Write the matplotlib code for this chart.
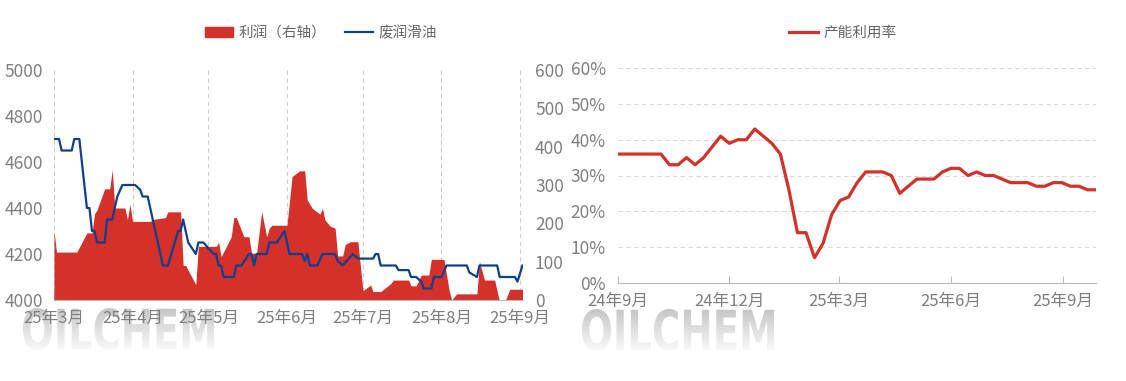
import numpy as np
import pandas as pd
import matplotlib
matplotlib.use('Agg')
import matplotlib.pyplot as plt
import matplotlib.dates as mdates
from matplotlib.ticker import FuncFormatter, MultipleLocator
from matplotlib.textpath import TextPath
from matplotlib.patches import PathPatch, Patch
from matplotlib.font_manager import FontProperties
from matplotlib.transforms import Affine2D
from matplotlib.lines import Line2D

plt.rcParams['font.family'] = ['Noto Sans CJK SC', 'DejaVu Sans']

# ---- data ----
oil_dates = ['2025-03-01', '2025-03-03', '2025-03-04', '2025-03-08', '2025-03-09', '2025-03-11',
             '2025-03-14', '2025-03-15', '2025-03-16', '2025-03-17', '2025-03-18', '2025-03-21',
             '2025-03-22', '2025-03-24', '2025-03-25', '2025-03-26', '2025-03-28', '2025-04-02',
             '2025-04-04', '2025-04-05', '2025-04-07', '2025-04-13', '2025-04-15', '2025-04-19',
             '2025-04-20', '2025-04-21', '2025-04-23', '2025-04-26', '2025-04-27', '2025-04-29',
             '2025-05-03', '2025-05-04', '2025-05-05', '2025-05-06', '2025-05-07', '2025-05-11',
             '2025-05-12', '2025-05-14', '2025-05-17', '2025-05-18', '2025-05-19', '2025-05-20',
             '2025-05-24', '2025-05-25', '2025-05-28', '2025-05-31', '2025-06-02', '2025-06-07',
             '2025-06-08', '2025-06-09', '2025-06-10', '2025-06-13', '2025-06-15', '2025-06-20',
             '2025-06-21', '2025-06-23', '2025-06-27', '2025-06-29', '2025-07-05', '2025-07-06',
             '2025-07-07', '2025-07-08', '2025-07-14', '2025-07-15', '2025-07-19', '2025-07-20',
             '2025-07-22', '2025-07-24', '2025-07-25', '2025-07-28', '2025-07-29', '2025-08-01',
             '2025-08-03', '2025-08-11', '2025-08-12', '2025-08-15', '2025-08-16', '2025-08-23',
             '2025-08-24', '2025-08-30', '2025-08-31', '2025-09-02']
oil_price = [4700, 4700, 4650, 4650, 4700, 4700,
             4400, 4400, 4300, 4300, 4250, 4250,
             4350, 4350, 4400, 4450, 4500, 4500,
             4480, 4450, 4450, 4150, 4150, 4300,
             4300, 4350, 4250, 4200, 4250, 4250,
             4200, 4200, 4150, 4150, 4100, 4100,
             4150, 4150, 4200, 4200, 4150, 4200,
             4200, 4250, 4250, 4300, 4200, 4200,
             4170, 4200, 4150, 4150, 4200, 4200,
             4170, 4150, 4200, 4180, 4180, 4200,
             4200, 4150, 4150, 4130, 4130, 4100,
             4100, 4080, 4050, 4050, 4100, 4100,
             4150, 4150, 4120, 4100, 4150, 4150,
             4100, 4100, 4080, 4150]

profit_dates = ['2025-03-01', '2025-03-02', '2025-03-10', '2025-03-14', '2025-03-16', '2025-03-17',
                '2025-03-18', '2025-03-21', '2025-03-23', '2025-03-24', '2025-03-25', '2025-03-29',
                '2025-03-30', '2025-03-31', '2025-04-01', '2025-04-08', '2025-04-09', '2025-04-14',
                '2025-04-15', '2025-04-20', '2025-04-21', '2025-04-22', '2025-04-26', '2025-04-27',
                '2025-05-04', '2025-05-05', '2025-05-06', '2025-05-10', '2025-05-11', '2025-05-12',
                '2025-05-15', '2025-05-17', '2025-05-18', '2025-05-20', '2025-05-22', '2025-05-24',
                '2025-05-25', '2025-05-26', '2025-06-01', '2025-06-03', '2025-06-06', '2025-06-08',
                '2025-06-09', '2025-06-11', '2025-06-14', '2025-06-15', '2025-06-16', '2025-06-18',
                '2025-06-20', '2025-06-21', '2025-06-23', '2025-06-24', '2025-06-26', '2025-06-29',
                '2025-07-01', '2025-07-04', '2025-07-05', '2025-07-08', '2025-07-12', '2025-07-13',
                '2025-07-19', '2025-07-20', '2025-07-22', '2025-07-24', '2025-07-27', '2025-07-28',
                '2025-08-02', '2025-08-04', '2025-08-05', '2025-08-07', '2025-08-15', '2025-08-16',
                '2025-08-18', '2025-08-22', '2025-08-23', '2025-08-24', '2025-08-26', '2025-08-28',
                '2025-09-02']
profit = [180, 125, 125, 175, 175, 225,
          235, 290, 290, 340, 240, 240,
          210, 250, 205, 205, 210, 215,
          230, 230, 90, 90, 40, 140,
          140, 150, 113, 165, 215, 215,
          165, 165, 122, 122, 230, 165,
          187, 195, 195, 322, 337, 337,
          261, 239, 224, 239, 209, 193,
          187, 115, 115, 145, 152, 152,
          24, 39, 22, 22, 43, 52,
          52, 37, 37, 65, 65, 106,
          106, 26, 0, 16, 16, 100,
          52, 52, 22, -5, -5, 28,
          28]

util_start = '2024-09-01'
util_rate = [36, 36, 36, 36, 36, 36, 33, 33, 35, 33,
             35, 38, 41, 39, 40, 40, 43, 41, 39, 36,
             26, 14, 14, 7, 11, 19, 23, 24, 28, 31,
             31, 31, 30, 25, 27, 29, 29, 29, 31, 32,
             32, 30, 31, 30, 30, 29, 28, 28, 28, 27,
             27, 28, 28, 27, 27, 26, 26]

RED = '#d3312a'
BLUE = '#0f3f8f'
GRAY = '#7f7f7f'
W, H = 1126, 381

fig = plt.figure(figsize=(W / 100, H / 100), dpi=100)


def month_fmt(x, pos):
    d = mdates.num2date(x)
    return f"{d.year % 100}年{d.month}月"


def watermark(x0, x1, y0, y1):
    # OILCHEM logo, gray gradient text under the charts
    wa = fig.add_axes([0, 0, 1, 1], zorder=-5)
    wa.set_xlim(0, W)
    wa.set_ylim(H, 0)
    wa.axis('off')
    tp = TextPath((0, 0), "OILCHEM", size=100,
                  prop=FontProperties(family='DejaVu Sans', weight='bold'))
    ext = tp.get_extents()
    tr = (Affine2D().translate(-ext.x0, -ext.y0)
          .scale((x1 - x0) / ext.width, -(y1 - y0) / ext.height)
          .translate(x0, y1))
    patch = PathPatch(tr.transform_path(tp), facecolor='none', edgecolor='none',
                      transform=wa.transData)
    wa.add_patch(patch)
    grad = np.linspace(0, 1, 100).reshape(-1, 1)
    im = wa.imshow(grad, cmap=matplotlib.colors.LinearSegmentedColormap.from_list(
        'wm', ['#c6c6c6', '#f9f9f9']), extent=(x0, x1, y1, y0), aspect='auto')
    im.set_clip_path(patch)
    wa.set_xlim(0, W)
    wa.set_ylim(H, 0)


watermark(23, 214, 308, 350)
watermark(582, 774, 309, 351)

# ---- left chart: profit (right axis) + waste lube oil price ----
ax = fig.add_axes([54 / W, 1 - 300 / H, (522.5 - 54) / W, 230 / H])
ax2 = ax.twinx()
ax.yaxis.tick_right()
ax2.yaxis.tick_left()

px = pd.to_datetime(profit_dates)
ax.fill_between(px, profit, 0, color=RED, linewidth=0, zorder=2)
ax.set_ylim(0, 600)
ax.yaxis.set_major_locator(MultipleLocator(100))

ox = pd.to_datetime(oil_dates)
ax2.plot(ox, oil_price, color=BLUE, lw=1.6)
ax2.set_ylim(4000, 5000)
ax2.yaxis.set_major_locator(MultipleLocator(200))

ax.set_xlim(pd.Timestamp('2025-03-01'), pd.Timestamp('2025-09-02'))
ax.xaxis.set_major_locator(mdates.MonthLocator())
ax.xaxis.set_major_formatter(FuncFormatter(month_fmt))
ax.grid(axis='x', color='#cccccc', ls=(0, (4, 3)), lw=0.8)
ax.set_axisbelow(True)

for a in (ax, ax2):
    for s in ('top', 'left', 'right'):
        a.spines[s].set_visible(False)
    a.patch.set_visible(False)
ax2.spines['bottom'].set_visible(False)
ax.spines['bottom'].set_color('#bbbbbb')
ax.tick_params(axis='x', direction='in', length=5, color='#bbbbbb',
               labelsize=12, labelcolor=GRAY, pad=7)
ax.tick_params(axis='y', length=0, labelsize=12.5, labelcolor=GRAY, pad=9)
ax2.tick_params(axis='y', length=0, labelsize=12.5, labelcolor=GRAY, pad=8)

fig.legend(handles=[Patch(color=RED), Line2D([], [], color=BLUE, lw=1.6)],
           labels=['利润（右轴）', '废润滑油'], loc='center',
           bbox_to_anchor=(321 / W, 1 - 33 / H), ncol=2, frameon=False,
           fontsize=10.5, labelcolor='#666666', handlelength=1.9,
           handleheight=0.7, handletextpad=0.4, columnspacing=1.3)

# ---- right chart: capacity utilization ----
ax3 = fig.add_axes([618.3 / W, 1 - 282.7 / H, (1096 - 618.3) / W, 214.4 / H])
ux = pd.date_range(util_start, periods=len(util_rate), freq='7D')
ax3.plot(ux, util_rate, color=RED, lw=2.3)
ax3.set_ylim(0, 60)
ax3.yaxis.set_major_locator(MultipleLocator(10))
ax3.yaxis.set_major_formatter(FuncFormatter(lambda v, p: f"{v:.0f}%"))
ax3.set_xlim(ux[0], ux[-1])
ax3.xaxis.set_major_locator(mdates.MonthLocator(bymonth=[3, 6, 9, 12]))
ax3.xaxis.set_major_formatter(FuncFormatter(month_fmt))
ax3.grid(axis='y', color='#d9d9d9', ls=(0, (4, 3)), lw=0.8)
ax3.set_axisbelow(True)
for s in ('top', 'left', 'right'):
    ax3.spines[s].set_visible(False)
ax3.spines['bottom'].set_color('#bbbbbb')
ax3.tick_params(axis='x', direction='in', length=5, color='#bbbbbb',
                labelsize=12, labelcolor=GRAY, pad=7)
ax3.tick_params(axis='y', length=0, labelsize=12.5, labelcolor=GRAY, pad=9)
ax3.patch.set_visible(False)

fig.legend(handles=[Line2D([], [], color=RED, lw=2.3)], labels=['产能利用率'],
           loc='center', bbox_to_anchor=(843 / W, 1 - 33 / H), frameon=False,
           fontsize=10.5, labelcolor='#666666', handlelength=2.0, handletextpad=0.4)

fig.savefig('out.png', dpi=100, facecolor='white')
